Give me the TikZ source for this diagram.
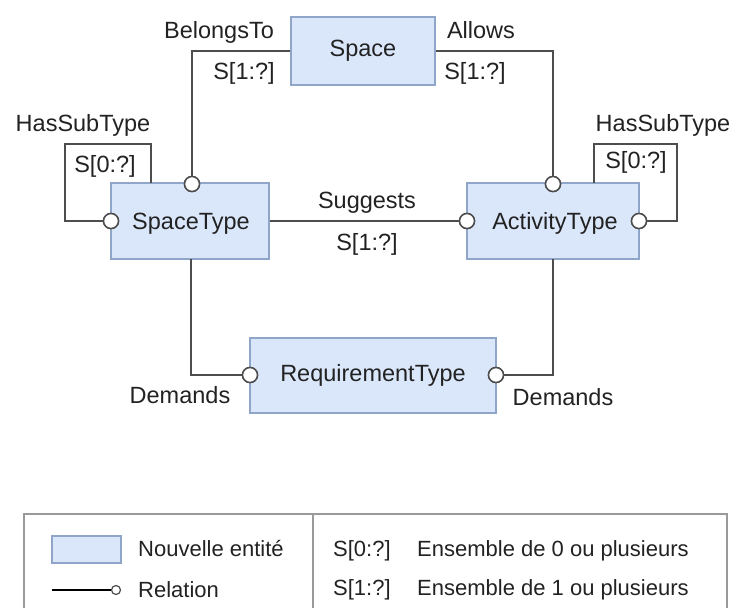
\documentclass[tikz,border=0pt]{standalone}
\usepackage{fontspec}
\setmainfont{Liberation Sans}
\begin{document}
\begin{tikzpicture}[x=1pt,y=-1pt,
  conn/.style={draw=lineC, line width=1.8pt},
  entity/.style={draw=boxB, fill=boxF, line width=1.4pt, inner sep=0pt, font=\fontsize{23.5}{26}\selectfont, text=txtC},
  port/.style={circle, draw=lineC, fill=white, line width=1.5pt, minimum size=15pt, inner sep=0pt},
  lbl/.style={inner sep=0pt, font=\fontsize{23.5}{26}\selectfont, text=txtC, text height=17pt, text depth=0pt, anchor=center},
  leg/.style={inner sep=0pt, font=\fontsize{22}{24}\selectfont, text=txtC, text height=16pt, text depth=0pt, anchor=west},
]
\definecolor{lineC}{HTML}{4D4D4D}
\definecolor{boxB}{HTML}{8FA6C8}
\definecolor{boxF}{HTML}{DAE7FA}
\definecolor{txtC}{HTML}{222222}
\definecolor{legB}{HTML}{9A9A9A}
\useasboundingbox (0,0) rectangle (734,608);

% entities
\node[entity, minimum width=144pt, minimum height=68pt] (space) at (363,51) {};
\node[entity, minimum width=158pt, minimum height=76pt] (st) at (190,221) {};
\node[entity, minimum width=172pt, minimum height=76pt] (at) at (553,221) {};
\node[entity, minimum width=246pt, minimum height=75pt] (rt) at (373,375.5) {};

\node[lbl] (spacet) at (363,48) {Space};
\node[lbl] (stt) at (191,221) {SpaceType};
\node[lbl] (att) at (555,221) {ActivityType};
\node[lbl] (rtt) at (373,373) {RequirementType};

% ports
\node[port] (pst) at (192,184) {};
\node[port] (pstl) at (111,221) {};
\node[port] (pat) at (553,184) {};
\node[port] (patl) at (467,221) {};
\node[port] (patr) at (639,221) {};
\node[port] (prtl) at (250,375) {};
\node[port] (prtr) at (496,375) {};

\coordinate (stloop) at (151,183);
\coordinate (atloop) at (594,183);
\coordinate (stbot) at (191,259);
\coordinate (atbot) at (553,259);

% connectors
\draw[conn] (space.west) -| (pst.north);
\draw[conn] (space.east) -| (pat.north);
\draw[conn] (st.east) -- (patl.west);
\draw[conn] (pstl.west) -- (65,221) -- (65,144) -- (151,144) -- (stloop);
\draw[conn] (patr.east) -- (677,221) -- (677,144) -- (594,144) -- (atloop);
\draw[conn] (stbot) |- (prtl.west);
\draw[conn] (atbot) |- (prtr.east);

% redraw ports on top
\foreach \p in {pst,pstl,pat,patl,patr,prtl,prtr}{
  \draw[draw=lineC, fill=white, line width=1.5pt] (\p) circle (7.5pt);
}

% labels
\node[lbl] (l1) at (219,30) {BelongsTo};
\node[lbl] (l2) at (244,71) {S[1:?]};
\node[lbl] (l3) at (481,30) {Allows};
\node[lbl] (l4) at (475,71) {S[1:?]};
\node[lbl] (l5) at (83,123) {HasSubType};
\node[lbl] (l6) at (105,164) {S[0:?]};
\node[lbl] (l7) at (663,123) {HasSubType};
\node[lbl] (l8) at (636,160) {S[0:?]};
\node[lbl] (l9) at (367,200) {Suggests};
\node[lbl] (l10) at (367,242) {S[1:?]};
\node[lbl] (l11) at (180,395) {Demands};
\node[lbl] (l12) at (563,397) {Demands};

% legend
\draw[draw=legB, line width=1.4pt] (24,608) -- (24,514) -- (727,514) -- (727,608);
\draw[draw=legB, line width=1.4pt] (313,514) -- (313,608);
\node[entity, minimum width=69pt, minimum height=27pt] (legbox) at (86.5,549.5) {};
\node[leg] (lt1) at (138,548.5) {Nouvelle entité};
\coordinate (legl) at (52,590);
\node[circle, draw=lineC, fill=white, line width=1.2pt, minimum size=9pt, inner sep=0pt] (legc) at (116,590) {};
\draw[draw=black, line width=1.2pt] (legl) -- (legc.west);
\node[leg] (lt2) at (138,589) {Relation};
\node[leg] (lt3) at (333,548) {S[0:?]};
\node[leg] (lt4) at (417,548) {Ensemble de 0 ou plusieurs};
\node[leg] (lt5) at (333,587) {S[1:?]};
\node[leg] (lt6) at (417,587) {Ensemble de 1 ou plusieurs};
\end{tikzpicture}
\end{document}
